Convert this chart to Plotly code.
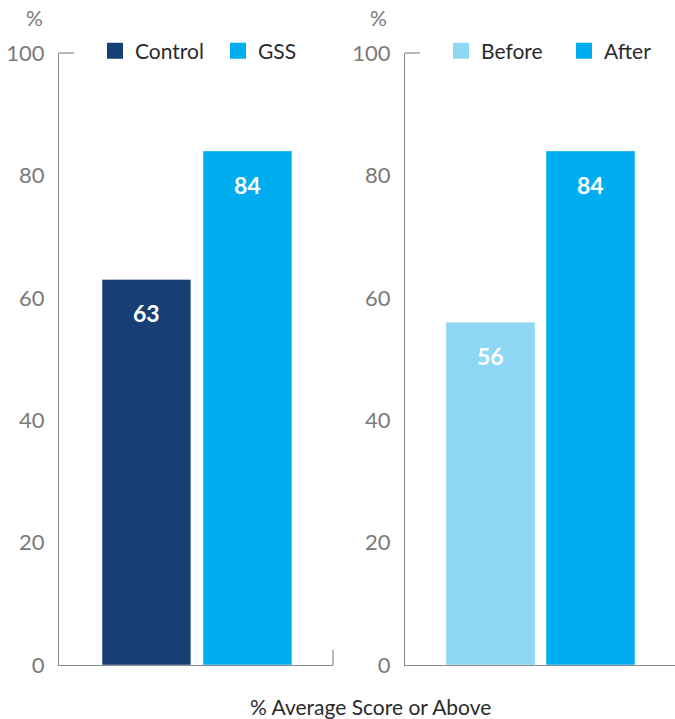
import plotly.graph_objects as go

# Data
left_cats = ["Control", "GSS"]
left_vals = [63, 84]
left_colors = ["#173f75", "#00aeef"]

right_cats = ["Before", "After"]
right_vals = [56, 84]
right_colors = ["#8fd8f5", "#00aeef"]

y_ticks = [0, 20, 40, 60, 80, 100]
x_title = "% Average Score or Above"

W, H = 675, 719
FONT = "Lato"
TICK_COLOR = "#7a7a7a"
AXIS_COLOR = "#8a8a8a"

fig = go.Figure()

# bars
for c, v, col in zip(left_cats, left_vals, left_colors):
    fig.add_trace(go.Bar(x=[c], y=[v], marker_color=col, width=0.88, showlegend=False,
                         xaxis="x", yaxis="y", hoverinfo="skip"))
for c, v, col in zip(right_cats, right_vals, right_colors):
    fig.add_trace(go.Bar(x=[c], y=[v], marker_color=col, width=0.89, showlegend=False,
                         xaxis="x2", yaxis="y2", hoverinfo="skip"))

# legend-only traces
for c, col in zip(left_cats, left_colors):
    fig.add_trace(go.Scatter(x=[None], y=[None], mode="markers", name=c,
                             marker=dict(symbol="square", size=16, color=col),
                             xaxis="x", yaxis="y", legend="legend"))
for c, col in zip(right_cats, right_colors):
    fig.add_trace(go.Scatter(x=[None], y=[None], mode="markers", name=c,
                             marker=dict(symbol="square", size=16, color=col),
                             xaxis="x2", yaxis="y2", legend="legend2"))

# value annotations
annotations = []
for c, v in zip(left_cats, left_vals):
    annotations.append(dict(x=c, y=v, xref="x", yref="y", text=f"<b>{v}</b>", showarrow=False,
                            yshift=-34, font=dict(family=FONT, size=23, color="white")))
for c, v in zip(right_cats, right_vals):
    annotations.append(dict(x=c, y=v, xref="x2", yref="y2", text=f"<b>{v}</b>", showarrow=False,
                            yshift=-34, font=dict(family=FONT, size=23, color="white")))

# % labels
annotations.append(dict(x=34 / W, y=1 - 18 / H, xref="paper", yref="paper", text="%", showarrow=False,
                        xanchor="center", yanchor="middle",
                        font=dict(family=FONT, size=21, color=TICK_COLOR)))
annotations.append(dict(x=378 / W, y=1 - 18 / H, xref="paper", yref="paper", text="%", showarrow=False,
                        xanchor="center", yanchor="middle",
                        font=dict(family=FONT, size=21, color=TICK_COLOR)))
annotations.append(dict(x=370 / W, y=1 - 706 / H, xref="paper", yref="paper", text=x_title, showarrow=False,
                        xanchor="center", yanchor="middle",
                        font=dict(family=FONT, size=21, color="#2a2a2a")))

ydom = [1 - 665 / H, 1 - 53 / H]
yaxis_common = dict(range=[0, 100], tickvals=y_ticks, showgrid=False, zeroline=False,
                    showline=True, linecolor=AXIS_COLOR, linewidth=1.2, ticks="",
                    tickfont=dict(family=FONT, size=22, color=TICK_COLOR), ticklabelstandoff=9,
                    domain=ydom, fixedrange=True)
xaxis_common = dict(showgrid=False, zeroline=False, showline=True, linecolor=AXIS_COLOR,
                    linewidth=1.2, showticklabels=False, ticks="", type="category", fixedrange=True)

shapes = []
# tick at 100 on each y axis
for xr, yr in [("x domain", "y domain"), ("x2 domain", "y2 domain")]:
    shapes.append(dict(type="line", xref=xr, yref=yr,
                       x0=0, x1=15 / 272, y0=1, y1=1, line=dict(color=AXIS_COLOR, width=1.2)))
# small vertical tick at right end of left baseline
shapes.append(dict(type="line", xref="x domain", yref="y domain", x0=1, x1=1, y0=0, y1=15 / 612,
                   line=dict(color=AXIS_COLOR, width=1.2)))

fig.update_layout(
    width=W, height=H,
    margin=dict(l=0, r=0, t=0, b=0, pad=0, autoexpand=False),
    paper_bgcolor="white", plot_bgcolor="white",
    barmode="overlay",
    xaxis=dict(**xaxis_common, domain=[59 / W, 333 / W], range=[-0.866, 1.847], anchor="y"),
    yaxis=dict(**yaxis_common, anchor="x"),
    xaxis2=dict(**xaxis_common, domain=[405 / W, 1.0], range=[-0.855, 1.845], anchor="y2"),
    yaxis2=dict(**yaxis_common, anchor="x2"),
    legend=dict(orientation="h", x=95 / W, y=1 - 51 / H, xanchor="left", yanchor="middle",
                font=dict(family=FONT, size=21, color="#2a2a2a"), bgcolor="rgba(0,0,0,0)",
                entrywidth=78, entrywidthmode="pixels", itemsizing="trace"),
    legend2=dict(orientation="h", x=441 / W, y=1 - 51 / H, xanchor="left", yanchor="middle",
                 font=dict(family=FONT, size=21, color="#2a2a2a"), bgcolor="rgba(0,0,0,0)",
                 entrywidth=78, entrywidthmode="pixels", itemsizing="trace"),
    annotations=annotations,
    shapes=shapes,
    showlegend=True,
)

fig.write_html("out.html")
